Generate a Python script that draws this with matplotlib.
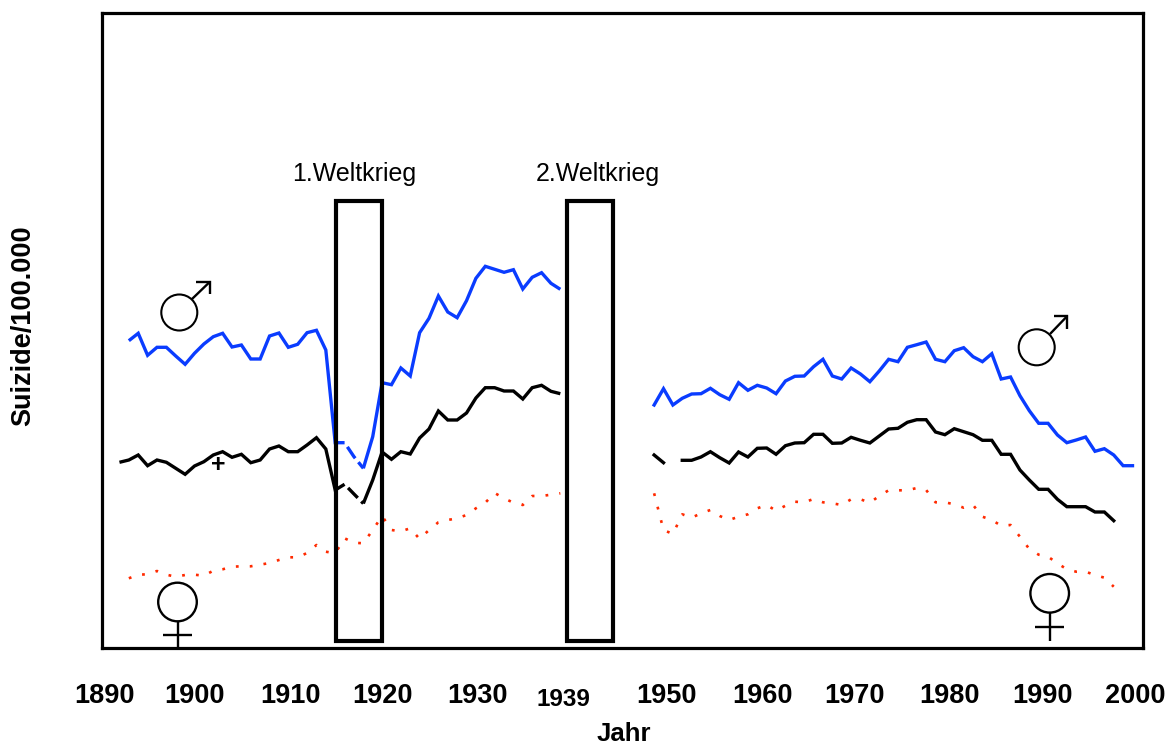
import numpy as np
import matplotlib
matplotlib.use("Agg")
import matplotlib.pyplot as plt
from matplotlib.patches import Rectangle, Circle
from matplotlib.transforms import Affine2D, ScaledTranslation

plt.rcParams['font.family'] = ['Liberation Sans', 'DejaVu Sans']
plt.rcParams['lines.scale_dashes'] = False

W, H = 1166, 747
BLUE, BLACK, RED = '#0a3cff', '#000000', '#ff2a00'

# Values are heights above the baseline in chart units (the axis carries no scale)
years_a = list(range(1893, 1940))
male_a = [307.3, 314.7, 292.7, 300.7, 300.7, 292, 283.7, 294.7, 304, 311.3, 314.7, 301, 303, 289, 289,
          312, 315, 300.7, 303.7, 315.3, 317.7, 298, 205.3, 205.3, 191.3, 179.7, 211.3, 265.3, 263.3,
          280, 272, 315.3, 329.7, 352, 336, 330.3, 347.3, 369.7, 381.7, 378.7, 375.7, 378.3, 359,
          370.7, 375.3, 364.7, 358.7]
years_total_a = list(range(1892, 1940))
total_a = [185.7, 188, 193, 182.3, 188, 185.7, 179.7, 173.7, 182, 186.3, 193, 196.3, 190.7, 193.7, 185.3,
           188, 199, 202, 196.3, 196.3, 203, 210.3, 199, 158, 163.7, 154, 144.5, 168, 196, 188.7, 196.3,
           194, 210, 219, 237, 228, 228, 235, 250, 260.3, 260.3, 257, 257, 249, 260.3, 262.7, 256.7, 254.3]
female_a = [69.7, 73.3, 73.7, 77, 73.3, 71.3, 73, 73.3, 72.3, 77.3, 78.7, 81.3, 81.7, 81.7, 83.3, 85, 88,
            90.7, 90.7, 95, 103, 96.3, 94.7, 109.7, 105.3, 104.7, 118, 132, 118, 116.7, 119.7, 109, 118,
            125.7, 128, 129.7, 133, 139.7, 145.3, 155, 149.7, 145.3, 143, 152, 152, 153.3, 154.7]

years_b = list(range(1949, 2001))
male_b = [243, 259.3, 243, 249.7, 254, 254.3, 259.7, 253.3, 248.7, 265.3, 257.7, 262.7, 260, 254.3, 267,
          271.7, 272, 281.3, 288.7, 272, 269, 280, 274, 266.3, 277, 288.7, 286.3, 300.7, 303.3, 306,
          288.7, 286.3, 297.3, 300.3, 291.3, 286.3, 294.3, 269, 271, 252.3, 237.3, 224.7, 224.7, 213,
          205.3, 208, 211, 196.7, 199.3, 193, 182.3, 182.3]
years_c = list(range(1949, 1999))
total_b = [193, 185.3, np.nan, 187.7, 187.7, 191, 196.3, 190.3, 185, 196, 191, 199.7, 200, 193.7, 202.3,
           205, 205.3, 213.7, 213.7, 204.7, 205, 210.7, 207.7, 205, 212, 219, 219.7, 225.7, 228.3, 228.3,
           216, 213.3, 219.3, 216.3, 213.3, 207.7, 207.7, 193.7, 193.7, 178, 168, 158.7, 158.7, 148.7,
           141.3, 141.3, 141.3, 136, 136, 127.3]
female_b = [154.7, 118, 114, 133.7, 130.3, 134.7, 138, 132, 128, 131.3, 133.7, 139.7, 143, 137.3, 142.3,
            146.3, 145.7, 149, 145.7, 144.7, 143, 148.7, 148.7, 145.3, 152, 157.7, 157.7, 157.7, 160, 158,
            145.7, 145.7, 143.7, 140.3, 143, 131.3, 128, 122.3, 123, 111.3, 99, 93.3, 91.3, 84.7, 78.7,
            76.3, 76.3, 73, 70.3, 61.3]

war_spans = [(1915.05, 1919.99), (1939.7, 1944.6)]
war_height = (7, 447)
war_labels = ['1.Weltkrieg', '2.Weltkrieg']
war_label_px = [354, 597.5]
tick_labels = ['1890', '1900', '1910', '1920', '1930', '1939', '1950', '1960', '1970', '1980', '1990', '2000']
label_px = [105, 194, 291, 383, 478, 563, 667, 762, 855, 950, 1043, 1135]

X2000, PXY = 1132.5, 9.38

def px2yr(p):
    return 2000 + (p - X2000) / PXY

fig = plt.figure(figsize=(W / 100, H / 100), dpi=100)
L, R, T, B = 101.5, 1143.0, 12.5, 648.0
ax = fig.add_axes([L / W, 1 - B / H, (R - L) / W, (B - T) / H])
ax.set_xlim(px2yr(L), px2yr(R))
ax.set_ylim(0, B - T)
for s in ax.spines.values():
    s.set_linewidth(2.3)

# pixel-coordinate transform (origin at top left) for annotations
px = Affine2D().scale(1, -1).translate(0, H)

lw = 2.4
ya, ma = np.array(years_a), np.array(male_a)
yta, ta = np.array(years_total_a), np.array(total_a)
for xs, vs, c in ((ya, ma, BLUE), (yta, ta, BLACK)):
    s1, s2, s3 = xs <= 1916, (xs >= 1916) & (xs <= 1918), xs >= 1918
    ax.plot(xs[s1], vs[s1], color=c, lw=lw, solid_capstyle='butt', solid_joinstyle='miter')
    ax.plot(xs[s2], vs[s2], color=c, lw=lw, linestyle=(10, (10, 3.6)), dash_capstyle='butt')
    ax.plot(xs[s3], vs[s3], color=c, lw=lw, solid_capstyle='butt', solid_joinstyle='miter')
ax.plot(years_b, male_b, color=BLUE, lw=lw, solid_joinstyle='miter')
ax.plot(years_c, total_b, color=BLACK, lw=lw, solid_joinstyle='miter')
ax.plot(years_a, female_a, color=RED, lw=1.9, linestyle=(0, (2.0, 8.0)))
ax.plot(years_c, female_b, color=RED, lw=1.9, linestyle=(0, (2.0, 8.0)))

for (x0, x1) in war_spans:
    ax.add_patch(Rectangle((x0, war_height[0]), x1 - x0, war_height[1] - war_height[0],
                           fill=False, ec='black', lw=3.0, joinstyle='miter', zorder=4))

ax.set_xticks([px2yr(p) for p in label_px])
ax.set_xticklabels(tick_labels, fontsize=19.5, fontweight='bold')
ax.set_yticks([])
ax.tick_params(axis='x', length=0, pad=25)
for t, lab in zip(ax.get_xticklabels(), tick_labels):
    if lab == '1939':
        t.set_fontsize(17.5)
        t.set_transform(t.get_transform() + ScaledTranslation(0, -3.5 / 72, fig.dpi_scale_trans))

for lab, cx in zip(war_labels, war_label_px):
    fig.text(cx, 174, lab, transform=px, fontsize=18, ha='center', va='center')

fig.text(624, 734, 'Jahr', transform=px, fontsize=18.5, fontweight='bold', ha='center', va='center')
fig.text(23, 326, 'Suizide/100.000', transform=px, fontsize=19.5, fontweight='bold', rotation=90,
         ha='center', va='center')
fig.text(218, 465, '+', transform=px, fontsize=18, fontweight='bold', ha='center', va='center')

def seg(xs, ys, lw=1.7):
    fig.add_artist(plt.Line2D(xs, ys, transform=px, color='black', lw=lw, solid_capstyle='butt',
                              solid_joinstyle='miter'))

def male(cx, cy, x0, y0, x1, y1, hx, hy):
    fig.add_artist(Circle((cx, cy), 18, transform=px, fill=False, ec='black', lw=1.5))
    seg([x0, x1], [y0, y1])
    seg([hx, x1, x1], [y1, y1, hy])

def female(cx, cy, top, bottom, cross):
    fig.add_artist(Circle((cx, cy), 19.3, transform=px, fill=False, ec='black', lw=1.7))
    seg([cx, cx], [top, bottom])
    seg([cx - 14.5, cx + 14.5], [cross, cross])

male(179.3, 312.5, 191.7, 299.3, 210, 281.7, 196, 294.3)
male(1036.7, 347.3, 1050, 334, 1067.3, 316, 1054, 329.3)
female(177.5, 602, 621.3, 647, 635)
female(1049.7, 593.3, 612.7, 640.7, 626.7)

fig.savefig('out.png', dpi=100)
